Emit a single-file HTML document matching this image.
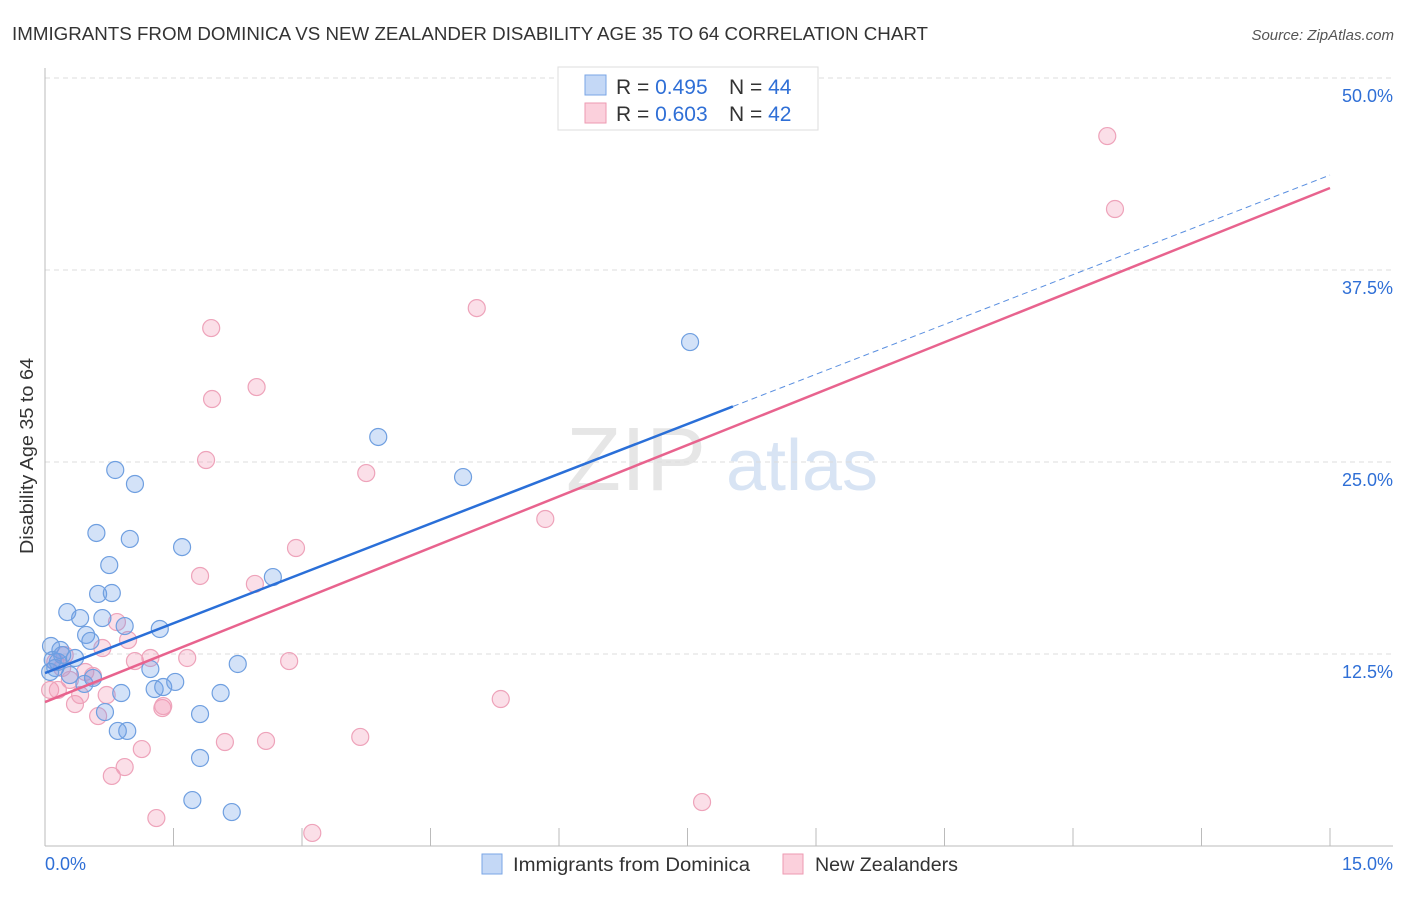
<!DOCTYPE html>
<html><head><meta charset="utf-8"><style>
body{margin:0;background:#fff;font-family:"Liberation Sans",sans-serif;}
svg text{font-family:"Liberation Sans",sans-serif;}
</style></head><body>
<svg id="chart" width="1406" height="892">
<text x="12" y="40" font-size="18" fill="#333" textLength="916" lengthAdjust="spacingAndGlyphs">IMMIGRANTS FROM DOMINICA VS NEW ZEALANDER DISABILITY AGE 35 TO 64 CORRELATION CHART</text>
<text x="1394" y="40" font-size="15" fill="#555" text-anchor="end" font-style="italic">Source: ZipAtlas.com</text>
<text transform="translate(33,456) rotate(-90)" font-size="18" fill="#333" text-anchor="middle" textLength="196" lengthAdjust="spacingAndGlyphs">Disability Age 35 to 64</text>
<g><text x="636" y="490" font-size="90" font-family="Liberation Serif,serif" fill="#e6e6e6" text-anchor="middle">ZIP</text><text x="802" y="490" font-size="72" fill="#d8e4f4" text-anchor="middle">atlas</text></g>
<g id="grid"></g><g id="axes"></g><g id="marks"></g>
<g>
<rect x="558" y="67" width="260" height="63" fill="#fff" stroke="#ddd"/>
<rect x="585" y="75" width="21" height="20" fill="#c4d8f6" stroke="#7aa6e6"/>
<rect x="585" y="103" width="21" height="20" fill="#fbd0dc" stroke="#ee9ab2"/>
<text x="616" y="94" font-size="21" fill="#333">R = <tspan fill="#2f6fd6">0.495</tspan><tspan x="729">N = </tspan><tspan fill="#2f6fd6">44</tspan></text>
<text x="616" y="121" font-size="21" fill="#333">R = <tspan fill="#2f6fd6">0.603</tspan><tspan x="729">N = </tspan><tspan fill="#2f6fd6">42</tspan></text>
</g>
<g>
<rect x="482" y="854" width="20" height="20" fill="#c4d8f6" stroke="#7aa6e6"/>
<text x="513" y="871" font-size="19" fill="#333" textLength="237" lengthAdjust="spacingAndGlyphs">Immigrants from Dominica</text>
<rect x="783" y="854" width="20" height="20" fill="#fbd0dc" stroke="#ee9ab2"/>
<text x="815" y="871" font-size="19" fill="#333" textLength="143" lengthAdjust="spacingAndGlyphs">New Zealanders</text>
</g>
</svg>
<script>
const blueX=[0.07,0.09,0.12,0.15,0.06,0.18,0.20,0.26,0.29,0.35,0.41,0.48,0.53,0.60,0.62,0.67,0.46,0.56,0.70,0.75,0.78,0.82,0.89,0.93,0.96,0.85,0.99,1.05,1.23,1.28,1.34,1.38,1.52,1.60,1.72,1.81,1.81,2.05,2.18,2.25,2.66,3.89,4.88,7.53];
const blueY=[13.02,12.11,11.59,11.98,11.33,12.76,12.43,15.23,11.13,12.24,14.84,13.74,13.35,20.38,16.41,14.84,10.55,10.94,8.72,18.29,16.47,24.48,9.96,14.32,7.49,7.49,19.99,23.57,11.52,10.22,14.13,10.35,10.68,19.46,2.99,8.59,5.73,9.96,2.21,11.85,17.51,26.63,24.02,32.81];
const pinkX=[0.06,0.12,0.15,0.20,0.23,0.29,0.35,0.41,0.47,0.56,0.62,0.67,0.72,0.78,0.84,0.93,0.97,1.05,1.13,1.23,1.30,1.37,1.38,1.66,1.81,1.88,1.94,1.95,2.10,2.45,2.47,2.58,2.85,2.93,3.12,3.68,3.75,5.04,5.32,5.84,7.67,12.40,12.49];
const pinkY=[10.16,11.98,10.16,11.59,12.43,10.81,9.24,9.83,11.33,11.07,8.46,12.89,9.83,4.56,14.58,5.14,13.41,12.04,6.31,12.24,1.82,8.98,9.11,12.24,17.58,25.13,33.72,29.10,6.77,17.06,29.88,6.84,12.04,19.40,0.85,7.10,24.28,35.02,9.57,21.29,2.86,46.22,41.47];
const blueTrend=[11.26,43.68];const blueSolidEnd=8.03;
const pinkTrend=[9.37,42.84];
const yTicks=[12.5,25.0,37.5,50.0];
const xTickVals=[0,1.5,3,4.5,6,7.5,9,10.5,12,13.5,15];
const NS='http://www.w3.org/2000/svg';
const sx=v=>45+v/15*1285, sy=v=>846-v/12.5*192;
function mk(p,t,a){const e=document.createElementNS(NS,t);for(const k in a)e.setAttribute(k,a[k]);p.appendChild(e);return e;}
const grid=document.getElementById('grid'),axes=document.getElementById('axes'),marks=document.getElementById('marks');
yTicks.forEach(v=>{
 const l=mk(grid,'line',{x1:45,x2:1393,y1:sy(v),y2:sy(v),stroke:'#ddd','stroke-dasharray':'5,4'});
 
 
 const t=mk(grid,'text',{x:1393,y:sy(v)+24,'font-size':18,fill:'#2f6fd6','text-anchor':'end'});t.textContent=v.toFixed(1)+'%';
 
 
});
mk(axes,'line',{x1:45,x2:45,y1:68,y2:846,stroke:'#bbb'});
mk(axes,'line',{x1:45,x2:1393,y1:846,y2:846,stroke:'#bbb'});
xTickVals.forEach(v=>{const t=mk(axes,'line',{x1:sx(v),x2:sx(v),y1:828,y2:846,stroke:'#bbb'});
 
 });
let t0=mk(axes,'text',{x:45,y:870,'font-size':18,fill:'#2f6fd6'});t0.textContent='0.0%';


let t1=mk(axes,'text',{x:1393,y:870,'font-size':18,fill:'#2f6fd6','text-anchor':'end'});t1.textContent='15.0%';


function pts(xs,ys,fill,stroke,name){xs.forEach((x,i)=>{const c=mk(marks,'circle',{cx:sx(x),cy:sy(ys[i]),r:8.5,fill:fill,stroke:stroke,'stroke-width':1.2});
 
 });}
pts(pinkX,pinkY,'rgba(242,150,178,0.3)','#eea3ba','point-new-zealanders');
pts(blueX,blueY,'rgba(110,160,232,0.3)','#6f9fe0','point-dominica');
const slope=(blueTrend[1]-blueTrend[0])/15;
const b1=mk(marks,'line',{x1:sx(0),y1:sy(blueTrend[0]),x2:sx(blueSolidEnd),y2:sy(blueTrend[0]+slope*blueSolidEnd),stroke:'#2a6fd8','stroke-width':2.5});


const b2=mk(marks,'line',{x1:sx(blueSolidEnd),y1:sy(blueTrend[0]+slope*blueSolidEnd),x2:sx(15),y2:sy(blueTrend[1]),stroke:'#5a8fe0','stroke-width':1,'stroke-dasharray':'6,4'});


const p1=mk(marks,'line',{x1:sx(0),y1:sy(pinkTrend[0]),x2:sx(15),y2:sy(pinkTrend[1]),stroke:'#e8638e','stroke-width':2.5});


</script>
</body></html>
